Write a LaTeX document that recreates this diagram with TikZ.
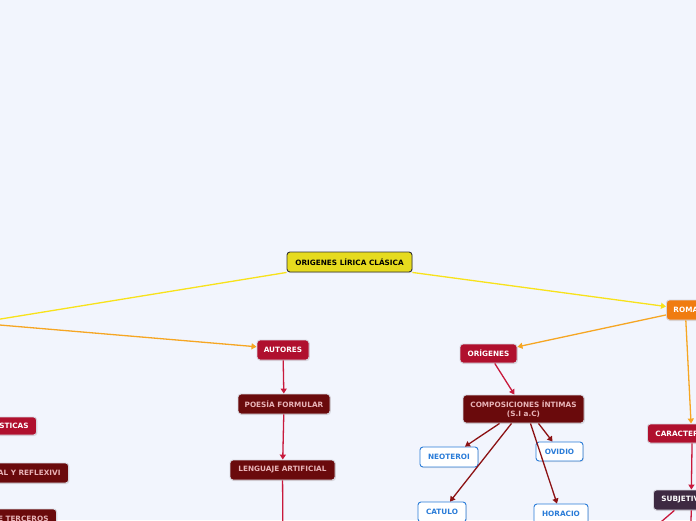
\documentclass[tikz,border=0pt]{standalone}
\usepackage{fontspec}
\setmainfont{DejaVu Sans}
\usepackage{xcolor}
\usepackage{tikz}
\usetikzlibrary{positioning,arrows.meta,shadows}

\definecolor{fondo}{RGB}{242,245,253}
\definecolor{amarillo}{RGB}{230,219,30}
\definecolor{lineaamarilla}{RGB}{248,226,26}
\definecolor{naranja}{RGB}{240,124,16}
\definecolor{lineanaranja}{RGB}{246,166,35}
\definecolor{rojo}{RGB}{176,16,46}
\definecolor{granate}{RGB}{106,10,12}
\definecolor{rosa}{RGB}{232,180,184}
\definecolor{carmin}{RGB}{200,25,60}
\definecolor{rojooscuro}{RGB}{140,18,20}
\definecolor{azul}{RGB}{42,124,216}
\definecolor{morado}{RGB}{62,42,66}
\definecolor{borde}{RGB}{214,214,222}

\begin{document}
\begin{tikzpicture}[x=1pt, y=-1pt,
  base/.style={rounded corners=3pt, align=center, inner sep=0pt, minimum height=20pt, line width=0.9pt,
    font=\bfseries\fontsize{7.3}{8.8}\selectfont,
    drop shadow={shadow xshift=0.8pt, shadow yshift=-1pt, opacity=0.2}},
  central/.style={base, fill=amarillo, draw=black!80, text=black},
  naranjabox/.style={base, fill=naranja, draw=borde, text=white},
  rojobox/.style={base, fill=rojo, draw=borde, text=white},
  granatebox/.style={base, fill=granate, draw=borde, text=rosa},
  azulbox/.style={base, fill=white, draw=azul, text=azul},
  moradobox/.style={base, fill=morado, draw=borde, text=white},
  arrow/.style={-{Triangle[width=6pt,length=5pt]}, line width=1.3pt},
  line/.style={line width=1.3pt}
]
\useasboundingbox (0,0) rectangle (696,520);
\clip (0,0) rectangle (696,520);
\fill[fondo] (0,0) rectangle (696,520);

\node[central, minimum width=125pt] (origen) at (349.5,262) {ORIGENES LÍRICA CLÁSICA};
\node[naranjabox, anchor=west, inner xsep=7pt] (roma) at (666,310) {ROMA};

\node[rojobox, minimum width=57pt, minimum height=19pt] (origenes) at (488.5,353.5) {ORÍGENES};
\node[granatebox, minimum width=121pt, minimum height=28pt] (intimas) at (523.5,409) {COMPOSICIONES ÍNTIMAS\\(S.I a.C)};
\node[azulbox, minimum width=58pt] (neoteroi) at (449,457) {NEOTEROI};
\node[azulbox, minimum width=47pt, minimum height=19pt] (ovidio) at (559.5,451.5) {OVIDIO};
\node[azulbox, minimum width=48pt] (catulo) at (442,512) {CATULO};
\node[azulbox, minimum width=54pt] (horacio) at (561,514) {HORACIO};

\node[rojobox, minimum width=52pt] (autores) at (283,350) {AUTORES};
\node[granatebox, minimum width=92pt] (poesia) at (284,404) {POESÍA FORMULAR};
\node[granatebox, minimum width=105pt] (lenguaje) at (282.5,470) {LENGUAJE ARTIFICIAL};

\node[rojobox, anchor=west, inner xsep=8pt, minimum height=19pt] (caracter) at (647,433.5) {CARACTER};
\node[moradobox, anchor=west, inner xsep=8pt] (subjetiv) at (653,500) {SUBJETIV};

\node[rojobox, anchor=east, inner xsep=8pt, minimum height=18pt] (sticas) at (37,426) {STICAS};
\node[granatebox, anchor=east, inner xsep=8pt] (reflexivi) at (69,473) {AL Y REFLEXIVI};
\node[granatebox, anchor=east, inner xsep=8pt] (terceros) at (57,519) {E TERCEROS};

% free ends outside the frame
\coordinate (grecia) at (-24,323);
\coordinate (finlenguaje) at (283,545);
\coordinate (finsubA) at (640,540);
\coordinate (finsubB) at (690,545);

\draw[line, lineaamarilla] (origen.south west) -- (grecia);
\draw[arrow, lineaamarilla] (origen.south east) -- (roma.170);
\draw[arrow, lineanaranja] (grecia) -- (autores.173);
\draw[arrow, lineanaranja] (roma.194) -- (origenes.13);
\draw[arrow, lineanaranja] (roma.south) -- ([xshift=14pt]caracter.north);

\draw[arrow, carmin] (autores) -- (poesia);
\draw[arrow, carmin] (poesia) -- (lenguaje);
\draw[line, carmin] (lenguaje) -- (finlenguaje);
\draw[arrow, carmin] (origenes) -- (intimas);
\draw[arrow, carmin] ([xshift=15pt]caracter.south) -- ([xshift=11pt]subjetiv.north);
\draw[line, carmin] ([xshift=-6pt]subjetiv.south) -- (finsubA);
\draw[line, carmin] ([xshift=11pt]subjetiv.south) -- (finsubB);

\draw[arrow, rojooscuro] ([xshift=-24pt]intimas.south) -- ([xshift=16pt]neoteroi.north);
\draw[arrow, rojooscuro] ([xshift=-12pt]intimas.south) -- ([xshift=8pt]catulo.north);
\draw[arrow, rojooscuro] ([xshift=15pt]intimas.south) -- ([xshift=-7pt]ovidio.north);
\draw[arrow, rojooscuro] ([xshift=7pt]intimas.south) -- ([xshift=-4pt]horacio.north);
\end{tikzpicture}
\end{document}
